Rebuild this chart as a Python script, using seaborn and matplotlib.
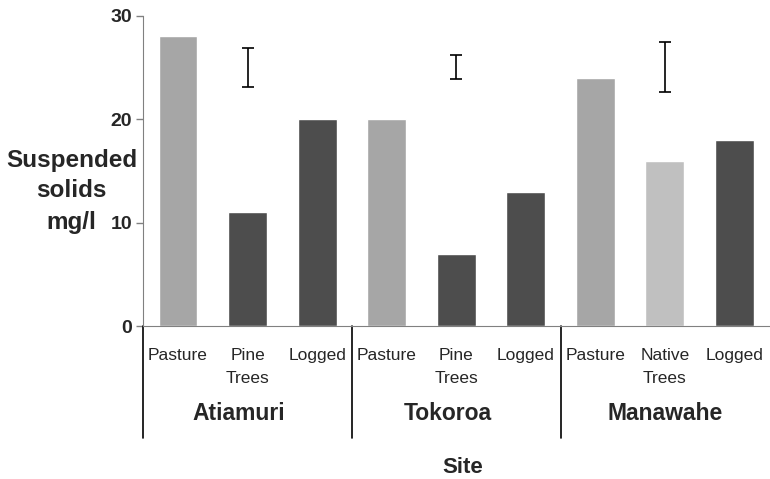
import matplotlib
matplotlib.use("Agg")
import matplotlib.pyplot as plt
import matplotlib.transforms as mtransforms
import pandas as pd
import seaborn as sns

# Data
sites = ["Atiamuri", "Tokoroa", "Manawahe"]
land_use = ["Pasture", "Pine Trees", "Logged",
            "Pasture", "Pine Trees", "Logged",
            "Pasture", "Native Trees", "Logged"]
solids = [28, 11, 20, 20, 7, 13, 24, 16, 18]
err_center = [25.0, 25.05, 25.05]
err_half = [1.9, 1.15, 2.45]
ylabel_lines = ["Suspended", "solids", "mg/l"]

colors = {"Pasture": "#a6a6a6", "Pine Trees": "#4d4d4d",
          "Logged": "#4d4d4d", "Native Trees": "#c0c0c0"}

sns.set_style("white")
plt.rcParams["font.family"] = ["Liberation Sans", "DejaVu Sans"]

df = pd.DataFrame({
    "site": [s for s in sites for _ in range(3)],
    "use": land_use,
    "value": solids,
})
df["key"] = df["site"] + "|" + df["use"]

fig, ax = plt.subplots(figsize=(7.7, 4.79), dpi=100)
fig.subplots_adjust(left=0.186, right=0.999, top=0.967, bottom=0.319)

sns.barplot(data=df, x="key", y="value", hue="use", palette=colors,
            order=list(df["key"]), dodge=False, legend=False, width=0.56,
            saturation=1, ax=ax)

# error bars sit over the middle bar of each site
ax.errorbar([1, 4, 7], err_center, yerr=err_half, fmt="none",
            ecolor="black", elinewidth=1.2, capsize=4.5, capthick=1.2)

ax.set_ylim(0, 30)
ax.set_xlim(-0.5, 8.5)
ax.set_yticks([0, 10, 20, 30])
ax.set_yticklabels(["0", "10", "20", "30"], fontweight="bold", fontsize=14)
ax.tick_params(axis="y", direction="out", length=5, color="#808080", width=1, left=True, pad=3)

ax.set_xticks(range(9))
ax.set_xticklabels([u.replace(" ", "\n") for u in land_use], fontsize=12.5,
                   linespacing=1.6)
ax.tick_params(axis="x", length=0, pad=16)
ax.set_xticks([0.5, 1.5, 3.5, 4.5, 6.5, 7.5], minor=True)
ax.tick_params(axis="x", which="minor", length=5, color="#a0a0a0", direction="out")

for side in ["top", "right"]:
    ax.spines[side].set_visible(False)
ax.spines["left"].set_color("#808080")
ax.spines["bottom"].set_color("#808080")

ax.set_xlabel("")
ax.set_ylabel("")

# y label written line by line, as in the reference
for i, line in enumerate(ylabel_lines):
    fig.text(71.5 / 770, 1 - (160 + i * 31) / 479, line, ha="center", va="center",
             fontsize=17.5, fontweight="bold")

# group dividers and site labels below the axis
trans = mtransforms.blended_transform_factory(ax.transData, ax.transAxes)
for x in [-0.5, 2.5, 5.5]:
    ax.plot([x, x], [0, -0.36], color="black", lw=1.2, transform=trans, clip_on=False)
shift = [-0.12, -0.12, 0.0]
for i, s in enumerate(sites):
    ax.text(i * 3 + 1 + shift[i], -0.28, s, transform=trans, ha="center", va="center",
            fontsize=16.5, fontweight="bold")

fig.text(463 / 770, 1 - 473 / 479, "Site", ha="center", va="baseline",
         fontsize=16, fontweight="bold")

fig.savefig("out.png", dpi=100)
